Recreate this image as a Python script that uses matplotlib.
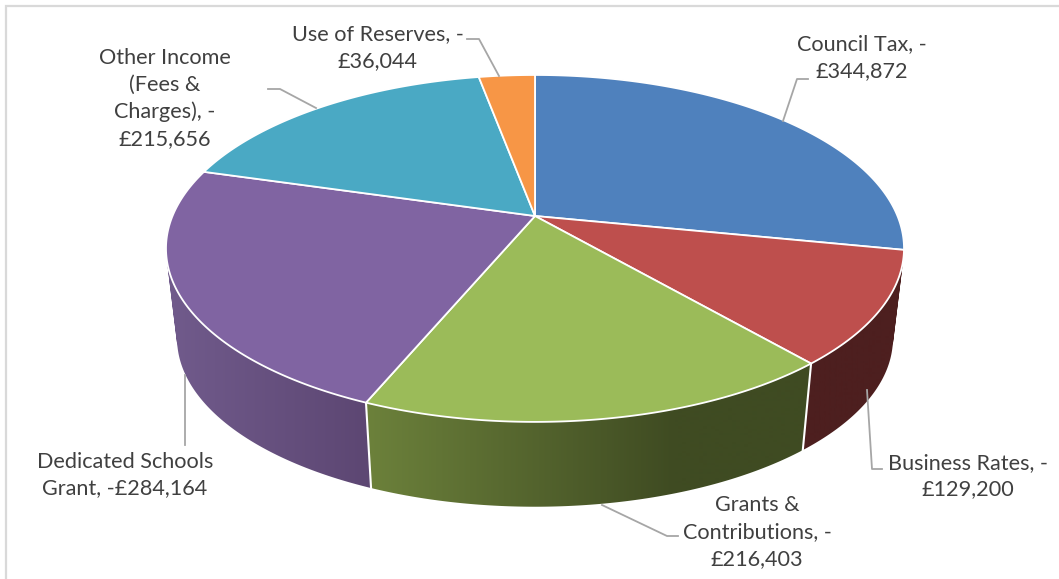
import numpy as np
import matplotlib
matplotlib.use("Agg")
import matplotlib.pyplot as plt
from matplotlib.colors import to_rgb
from matplotlib.patches import PathPatch
from matplotlib.path import Path

# ---- data ----
categories = ["Council Tax", "Business Rates", "Grants & Contributions",
              "Dedicated Schools Grant", "Other Income (Fees & Charges)", "Use of Reserves"]
values = [344872, 129200, 216403, 284164, 215656, 36044]
value_labels = ["Council Tax, -\n£344,872", "Business Rates, -\n£129,200",
                "Grants &\nContributions, -\n£216,403", "Dedicated Schools\nGrant, -£284,164",
                "Other Income\n(Fees &\nCharges), -\n£215,656", "Use of Reserves, -\n£36,044"]
top_colors = ["#4F81BD", "#BE4F4D", "#9BBB59", "#8064A2", "#4AA9C4", "#F79646"]

# ---- layout (pixel coordinates) ----
W, H = 1059, 579
CX, CY, R, B, K = 535.0, 216.0, 362.5, 167.4, 0.187
DROP, SHRINK = 91.0, 0.97
wall_ramps = {1: ("#4D1F1F", "#4D1F1F", 805, 890),
              2: ("#6C813B", "#3F4B22", 368, 675),
              3: ("#5D4773", "#705A8B", 365, 175)}
label_pos = [(862, 57.5), (968, 476), (757, 532), (125, 475), (165, 98.5), (378, 47.5)]
leaders = [[(808, 79), (797, 79), (783, 121)],
           [(867, 390), (872, 469), (882, 469)],
           [(602, 505), (667, 536), (678, 536)],
           [(185, 375), (185, 445)],
           [(268, 89), (280, 89), (316, 108)],
           [(467, 39), (479, 39), (499, 76)]]


def project(theta, lower=False):
    s, c = np.sin(theta), np.cos(theta)
    w = 1 + K * s
    x, y = R * c / w, -B * s / w
    if lower:
        return CX + SHRINK * x, CY + DROP + SHRINK * y
    return CX + x, CY + y


def wall_path(a0, a1, n=160):
    """Union of small quads swept between the upper and lower rim."""
    th = np.linspace(a0, a1, n)
    xt, yt = project(th)
    xb, yb = project(th, True)
    verts, codes = [], []
    for j in range(n - 1):
        q = np.array([(xt[j], yt[j]), (xt[j + 1], yt[j + 1]),
                      (xb[j + 1], yb[j + 1]), (xb[j], yb[j])])
        x, y = q[:, 0], q[:, 1]
        area = np.sum(x * np.roll(y, -1) - np.roll(x, -1) * y)
        if area < 0:
            q = q[::-1]
        verts += list(map(tuple, q)) + [tuple(q[0])]
        codes += [Path.MOVETO, Path.LINETO, Path.LINETO, Path.LINETO, Path.CLOSEPOLY]
    return Path(verts, codes)


fig = plt.figure(figsize=(W / 100, H / 100), dpi=100)
ax = fig.add_axes([0, 0, 1, 1])
ax.axis("off")

# chart frame
ax.plot([5.5, 5.5, W], [H, 5.5, 5.5], color="#D9D9D9", lw=1.6, solid_joinstyle="miter")

total = sum(values)
bounds = np.pi / 2 - 2 * np.pi * np.concatenate([[0], np.cumsum(values)]) / total

# side walls (the front-facing slices): a horizontal gradient clipped to each wall
for i, (c0, c1, x0, x1) in wall_ramps.items():
    patch = PathPatch(wall_path(bounds[i], bounds[i + 1]), transform=ax.transData,
                      facecolor="none", edgecolor="none")
    ax.add_patch(patch)
    xs = np.arange(0, W + 1)
    t = np.clip((xs - x0) / (x1 - x0), 0, 1)[None, :, None]
    grad = (1 - t) * np.array(to_rgb(c0))[None, None, :] + t * np.array(to_rgb(c1))[None, None, :]
    im = ax.imshow(grad, extent=(0, W, H, 0), aspect="auto", interpolation="bilinear", zorder=2)
    im.set_clip_path(patch)

# white seams between walls
for i in (2, 3):
    xt, yt = project(bounds[i])
    xb, yb = project(bounds[i], True)
    ax.plot([xt, xb], [yt, yb], color="white", lw=1.5, zorder=3)

# top faces
for i, col in enumerate(top_colors):
    th = np.linspace(bounds[i], bounds[i + 1], 200)
    x, y = project(th)
    ax.fill(np.r_[CX, x], np.r_[CY, y], facecolor=col, edgecolor="white", lw=1.3,
            joinstyle="round", zorder=4)

# leader lines
for pts in leaders:
    xs, ys = zip(*pts)
    ax.plot(xs, ys, color="#A6A6A6", lw=1.3, zorder=5)

# data labels
for txt, (x, y) in zip(value_labels, label_pos):
    ax.text(x, y, txt, ha="center", va="center", family=["Lato", "DejaVu Sans"],
            fontsize=15.6, color="#404040", linespacing=1.42, zorder=6)

ax.set_xlim(0, W)
ax.set_ylim(H, 0)
fig.savefig("out.png", dpi=100)
